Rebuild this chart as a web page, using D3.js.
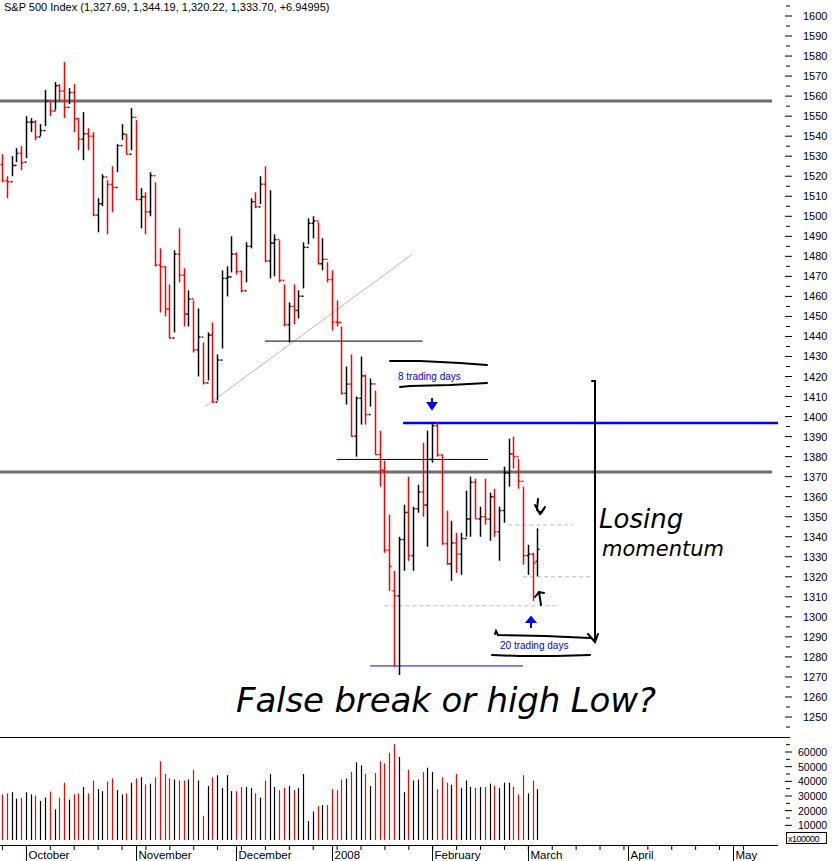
<!DOCTYPE html>
<html>
<head>
<meta charset="utf-8">
<script src="https://cdn.jsdelivr.net/npm/d3@7"></script>
<style>
  body { margin: 0; background: #fff; }
  svg { display: block; font-family: "Liberation Sans", Arial, sans-serif; }
  .hand { font-family: "DejaVu Sans", sans-serif; font-style: italic; font-weight: 200; fill: #000; }
</style>
</head>
<body>
<svg id="chart" width="832" height="861"></svg>
<script>
// daily bars, 24 Sep 2007 .. 5 Mar 2008 (index = trading day)
let opens = [1525.8,1517.7,1517.2,1525.4,1531.4,1527.0,1547.0,1547.0,1539.6,1542.8,1557.6,1552.6,1565.2,1562.5,1554.4,1561.8,1548.7,1538.5,1541.2,1540.0,
  1500.6,1506.3,1519.6,1515.9,1514.4,1535.3,1541.0,1531.0,1549.4,1508.4,1509.7,1502.2,1520.3,1475.6,1474.8,1453.7,1439.2,1481.1,1470.6,1451.2,
  1458.7,1433.3,1439.7,1416.8,1440.7,1407.2,1428.2,1469.0,1469.7,1481.1,1472.4,1462.8,1485.0,1507.3,1504.7,1516.0,1477.7,1486.6,1488.4,1468.0,
  1445.9,1455.0,1453.0,1460.1,1484.5,1496.5,1497.7,1476.3,1478.5,1468.4,1447.2,1447.0,1411.6,1416.2,1390.2,1409.1,1420.3,1401.0,1416.3,1381.0,
  1373.2,1333.3,1313.0,1310.5,1338.6,1352.1,1330.6,1354.0,1362.3,1355.8,1378.6,1395.4,1380.8,1336.6,1326.5,1336.9,1331.3,1339.1,1348.9,1367.2,
  1348.9,1350.0,1348.8,1360.0,1342.5,1353.1,1371.8,1381.3,1380.0,1367.7,1330.6,1331.3,1327.7];
let highs = [1531,1520,1530,1534,1535,1550,1549,1548,1546,1563,1557,1567,1566,1577,1564,1566,1549,1552,1544,1542,
  1509,1521,1518,1525,1536,1546,1541,1554,1548,1514,1512,1522,1517,1484,1475,1466,1483,1494,1474,1463,
  1458,1454,1437,1442,1447,1431,1473,1475,1490,1482,1473,1487,1509,1512,1520,1525,1513,1491,1488,1466,
  1457,1466,1463,1487,1499,1500,1497,1489,1477,1473,1458,1445,1425,1431,1410,1430,1421,1419,1413,1393,
  1378,1351,1323,1340,1356,1370,1355,1366,1387,1393,1397,1397,1381,1353,1348,1342,1342,1363,1370,1369,
  1355,1369,1362,1364,1355,1375,1389,1390,1379,1365,1336,1332,1344.2];
let lows = [1517,1509,1520,1527,1523,1529,1542,1538,1540,1545,1550,1553,1557,1549,1556,1542,1533,1528,1533,1500,
  1492,1505,1491,1502,1522,1538,1531,1533,1508,1494,1491,1500,1475,1452,1450,1439,1442,1467,1445,1445,
  1432,1420,1416,1418,1407,1408,1434,1460,1472,1471,1462,1467,1484,1504,1506,1477,1469,1470,1467,1445,
  1437,1446,1449,1464,1486,1489,1476,1473,1467,1443,1445,1411,1406,1390,1380,1396,1396,1405,1381,1365,
  1332,1313,1275,1271,1323,1328,1323,1352,1350,1335,1377,1380,1336,1326,1318,1322,1321,1340,1340,1349,
  1340,1346,1338,1340,1328,1347,1365,1374,1364,1326,1321,1308,1320.2];
let closes = [1517.7,1517.2,1525.4,1531.4,1526.8,1547.0,1547.0,1539.6,1542.8,1557.6,1552.6,1565.2,1562.5,1554.4,1561.8,1548.7,1538.5,1541.2,1540.0,1500.6,
  1506.3,1519.6,1515.9,1514.4,1535.3,1541.0,1531.0,1549.4,1508.4,1509.7,1502.2,1520.3,1475.6,1474.8,1453.7,1439.2,1481.1,1470.6,1451.2,1458.7,
  1433.3,1439.7,1416.8,1440.7,1407.2,1428.2,1469.0,1469.7,1481.1,1472.4,1462.8,1485.0,1507.3,1504.7,1516.0,1477.7,1486.6,1488.4,1468.0,1445.9,
  1455.0,1453.0,1460.1,1484.5,1496.5,1497.7,1476.3,1478.5,1468.4,1447.2,1447.0,1411.6,1416.2,1390.2,1409.1,1420.3,1401.0,1416.3,1381.0,1373.2,
  1333.3,1325.2,1310.5,1338.6,1352.1,1330.6,1354.0,1362.3,1355.8,1378.6,1395.4,1380.8,1336.6,1326.5,1336.9,1331.3,1339.1,1348.9,1367.2,1348.9,
  1350.0,1348.8,1360.0,1342.5,1353.1,1371.8,1381.3,1380.0,1367.7,1330.6,1331.3,1326.8,1333.7];
let volumes = [31100,31800,32600,28200,28900,32600,31100,30400,26700,28900,33000,20900,28900,39100,27500,31100,31800,36200,31800,40600,
  34700,33300,39900,42000,34000,31100,31800,39100,42000,42800,38000,38400,42800,53700,45000,42000,41300,40600,40600,41300,
  47900,40600,16500,36900,42800,44200,35500,44200,33300,33300,36000,36200,35500,31800,28900,40600,45000,36200,34000,35500,
  36900,34000,35500,45000,12900,19400,23100,23800,23800,34700,34000,41300,42000,46400,53000,50800,45000,36900,45700,53700,
  52200,59500,65400,56600,32600,47900,40600,41300,46400,49300,46400,34700,42800,39100,37700,45000,35500,40600,36200,35500,
  36200,36200,38400,36900,35500,39100,39100,36200,31100,44200,31800,40600,34700];

let monthLabels = ["October", "November", "December", "2008", "February", "March", "April", "May"];
let monthIdx = [5, 28, 49, 69, 90, 110, 131, 153];
let priceTicks = d3.range(1250, 1601, 10);
let volTicks = [10000, 20000, 30000, 40000, 50000, 60000];

// levels drawn on the chart
let resistLevels = [1557.5, 1372.3];

let svg = d3.select('#chart');
let x = d3.scaleLinear().domain([0, 112]).range([2, 537.4]);
let y = d3.scaleLinear().domain([1600, 1250]).range([16, 717]);
let yv = d3.scaleLinear().domain([0, 60000]).range([840, 752]);

let barColor = function (i) {
  let prev = i === 0 ? opens[0] : closes[i - 1];
  return closes[i] < prev ? '#ff0000' : '#000000';
};

// right price axis
priceTicks.forEach(function (p) {
  svg.append('line').attr('x1', 785).attr('x2', 792).attr('y1', y(p)).attr('y2', y(p)).attr('stroke', '#000');
  svg.append('text').attr('x', 803).attr('y', y(p) + 4).attr('font-size', 11).text(p);
});
d3.range(1245, 1606, 10).forEach(function (p) {
  svg.append('line').attr('x1', 786).attr('x2', 790).attr('y1', y(p)).attr('y2', y(p)).attr('stroke', '#000');
});

// panel separator & volume axis
svg.append('line').attr('x1', 0).attr('x2', 790).attr('y1', 737.5).attr('y2', 737.5).attr('stroke', '#000');
volTicks.forEach(function (v) {
  svg.append('line').attr('x1', 785).attr('x2', 792).attr('y1', yv(v)).attr('y2', yv(v)).attr('stroke', '#000');
  svg.append('text').attr('x', 798).attr('y', yv(v) + 4).attr('font-size', 10.5).text(v);
});
d3.range(5000, 70000, 10000).forEach(function (v) {
  svg.append('line').attr('x1', 786).attr('x2', 790).attr('y1', yv(v)).attr('y2', yv(v)).attr('stroke', '#000');
});
svg.append('rect').attr('x', 786.5).attr('y', 832.5).attr('width', 40).attr('height', 11).attr('fill', '#fff').attr('stroke', '#000');
svg.append('text').attr('x', 788).attr('y', 841.5).attr('font-size', 9).attr('letter-spacing', -0.5).text('x100000');

// bottom time axis
svg.append('line').attr('x1', 0).attr('x2', 778).attr('y1', 845.5).attr('y2', 845.5).attr('stroke', '#000');
d3.range(0, 160, 5).forEach(function (i) {
  svg.append('line').attr('x1', x(i) + 0.5).attr('x2', x(i) + 0.5).attr('y1', 845).attr('y2', 850).attr('stroke', '#000');
});
monthIdx.forEach(function (i, k) {
  let xm = Math.round(x(i)) + 0.5;
  svg.append('line').attr('x1', xm).attr('x2', xm).attr('y1', 845).attr('y2', 861).attr('stroke', '#000');
  svg.append('text').attr('x', xm + 2).attr('y', 859).attr('font-size', 11.5).text(monthLabels[k]);
});

// volume bars
svg.append('g').selectAll('line').data(volumes).join('line')
  .attr('x1', (d, i) => Math.round(x(i)) + 0.5).attr('x2', (d, i) => Math.round(x(i)) + 0.5)
  .attr('y1', yv(0)).attr('y2', d => yv(d))
  .attr('stroke', (d, i) => barColor(i)).attr('stroke-width', 1.2);

// resistance lines
resistLevels.forEach(function (p) {
  svg.append('line').attr('x1', 0).attr('x2', 772).attr('y1', y(p)).attr('y2', y(p))
    .attr('stroke', '#6e6e6e').attr('stroke-width', 3);
});

// trend line and annotation lines
svg.append('line').attr('x1', x(42.5)).attr('y1', y(1405)).attr('x2', x(85.8)).attr('y2', y(1481))
  .attr('stroke', '#bbbbbb').attr('stroke-width', 1);
svg.append('line').attr('x1', x(55)).attr('x2', x(88)).attr('y1', y(1437.7)).attr('y2', y(1437.7)).attr('stroke', '#000');
svg.append('line').attr('x1', x(70)).attr('x2', x(101.7)).attr('y1', y(1378.6)).attr('y2', y(1378.6)).attr('stroke', '#000');
svg.append('line').attr('x1', x(83.9)).attr('x2', 778).attr('y1', y(1396.8)).attr('y2', y(1396.8)).attr('stroke', '#0000ff').attr('stroke-width', 2.5);
svg.append('line').attr('x1', x(77)).attr('x2', x(109)).attr('y1', y(1275.5)).attr('y2', y(1275.5)).attr('stroke', '#0000ff').attr('stroke-width', 1);

let dashed = [[105.9, 119.5, 1345.9], [109, 123.5, 1320], [80, 116, 1305.5]];
dashed.forEach(function (d) {
  svg.append('line').attr('x1', x(d[0])).attr('x2', x(d[1])).attr('y1', y(d[2])).attr('y2', y(d[2]))
    .attr('stroke', '#bbbbbb').attr('stroke-dasharray', '4,3');
});

// OHLC bars
let bars = svg.append('g').selectAll('g').data(closes).join('g')
  .attr('stroke', (d, i) => barColor(i)).attr('stroke-width', 1.5);
bars.append('line')
  .attr('x1', (d, i) => Math.round(x(i)) + 0.5).attr('x2', (d, i) => Math.round(x(i)) + 0.5)
  .attr('y1', (d, i) => y(highs[i])).attr('y2', (d, i) => y(lows[i]));
bars.append('line')
  .attr('x1', (d, i) => Math.round(x(i)) - 1.5).attr('x2', (d, i) => Math.round(x(i)) + 0.5)
  .attr('y1', (d, i) => y(opens[i])).attr('y2', (d, i) => y(opens[i]));
bars.append('line')
  .attr('x1', (d, i) => Math.round(x(i)) + 0.5).attr('x2', (d, i) => Math.round(x(i)) + 2.5)
  .attr('y1', d => y(d)).attr('y2', d => y(d));

// blue annotations
svg.append('text').attr('x', 398).attr('y', 380).attr('font-size', 10).attr('fill', '#0000ff').text('8 trading days');
svg.append('text').attr('x', 500).attr('y', 649).attr('font-size', 10).attr('fill', '#0000ff').text('20 trading days');
svg.append('path').attr('d', 'M432,398 L432,404 M428,403 L436,403 L432,409 Z').attr('stroke', '#0000ff').attr('stroke-width', 2).attr('fill', '#0000ff');
svg.append('path').attr('d', 'M531,628 L531,621 M527,622 L535,622 L531,617 Z').attr('stroke', '#0000ff').attr('stroke-width', 2).attr('fill', '#0000ff');

// handwritten marks
let hand = svg.append('g').attr('stroke', '#000').attr('fill', 'none').attr('stroke-width', 2).attr('stroke-linecap', 'round');
hand.append('path').attr('d', 'M390,361 L420,361 L460,363 L487,365');
hand.append('path').attr('d', 'M400,387 L410,386 L450,385 L487,383');
hand.append('path').attr('d', 'M495,634 L496,631 L498,635 L545,636 L590,638');
hand.append('path').attr('d', 'M492,655 L520,656 L556,656 L590,655');
hand.append('path').attr('d', 'M592,381 L595,381 L595,641 M588,634 L595,642 L598,634');
hand.append('path').attr('d', 'M538,499 L537,510 L541,513 L544,509 M535,505 L540,514 L545,507');
hand.append('path').attr('d', 'M535,597 L539,592 L544,593 M539,592 L541,605');

svg.append('text').attr('class', 'hand').attr('x', 599).attr('y', 528).attr('font-size', 26).text('Losing');
svg.append('text').attr('class', 'hand').attr('x', 602).attr('y', 556).attr('font-size', 21).text('momentum');
svg.append('text').attr('class', 'hand').attr('x', 236).attr('y', 712).attr('font-size', 34).attr('textLength', 420).text('False break  or  high Low?');

// title
svg.append('text').attr('x', 4).attr('y', 11).attr('font-size', 11).text('S&P 500 Index (1,327.69, 1,344.19, 1,320.22, 1,333.70, +6.94995)');
</script>
</body>
</html>
